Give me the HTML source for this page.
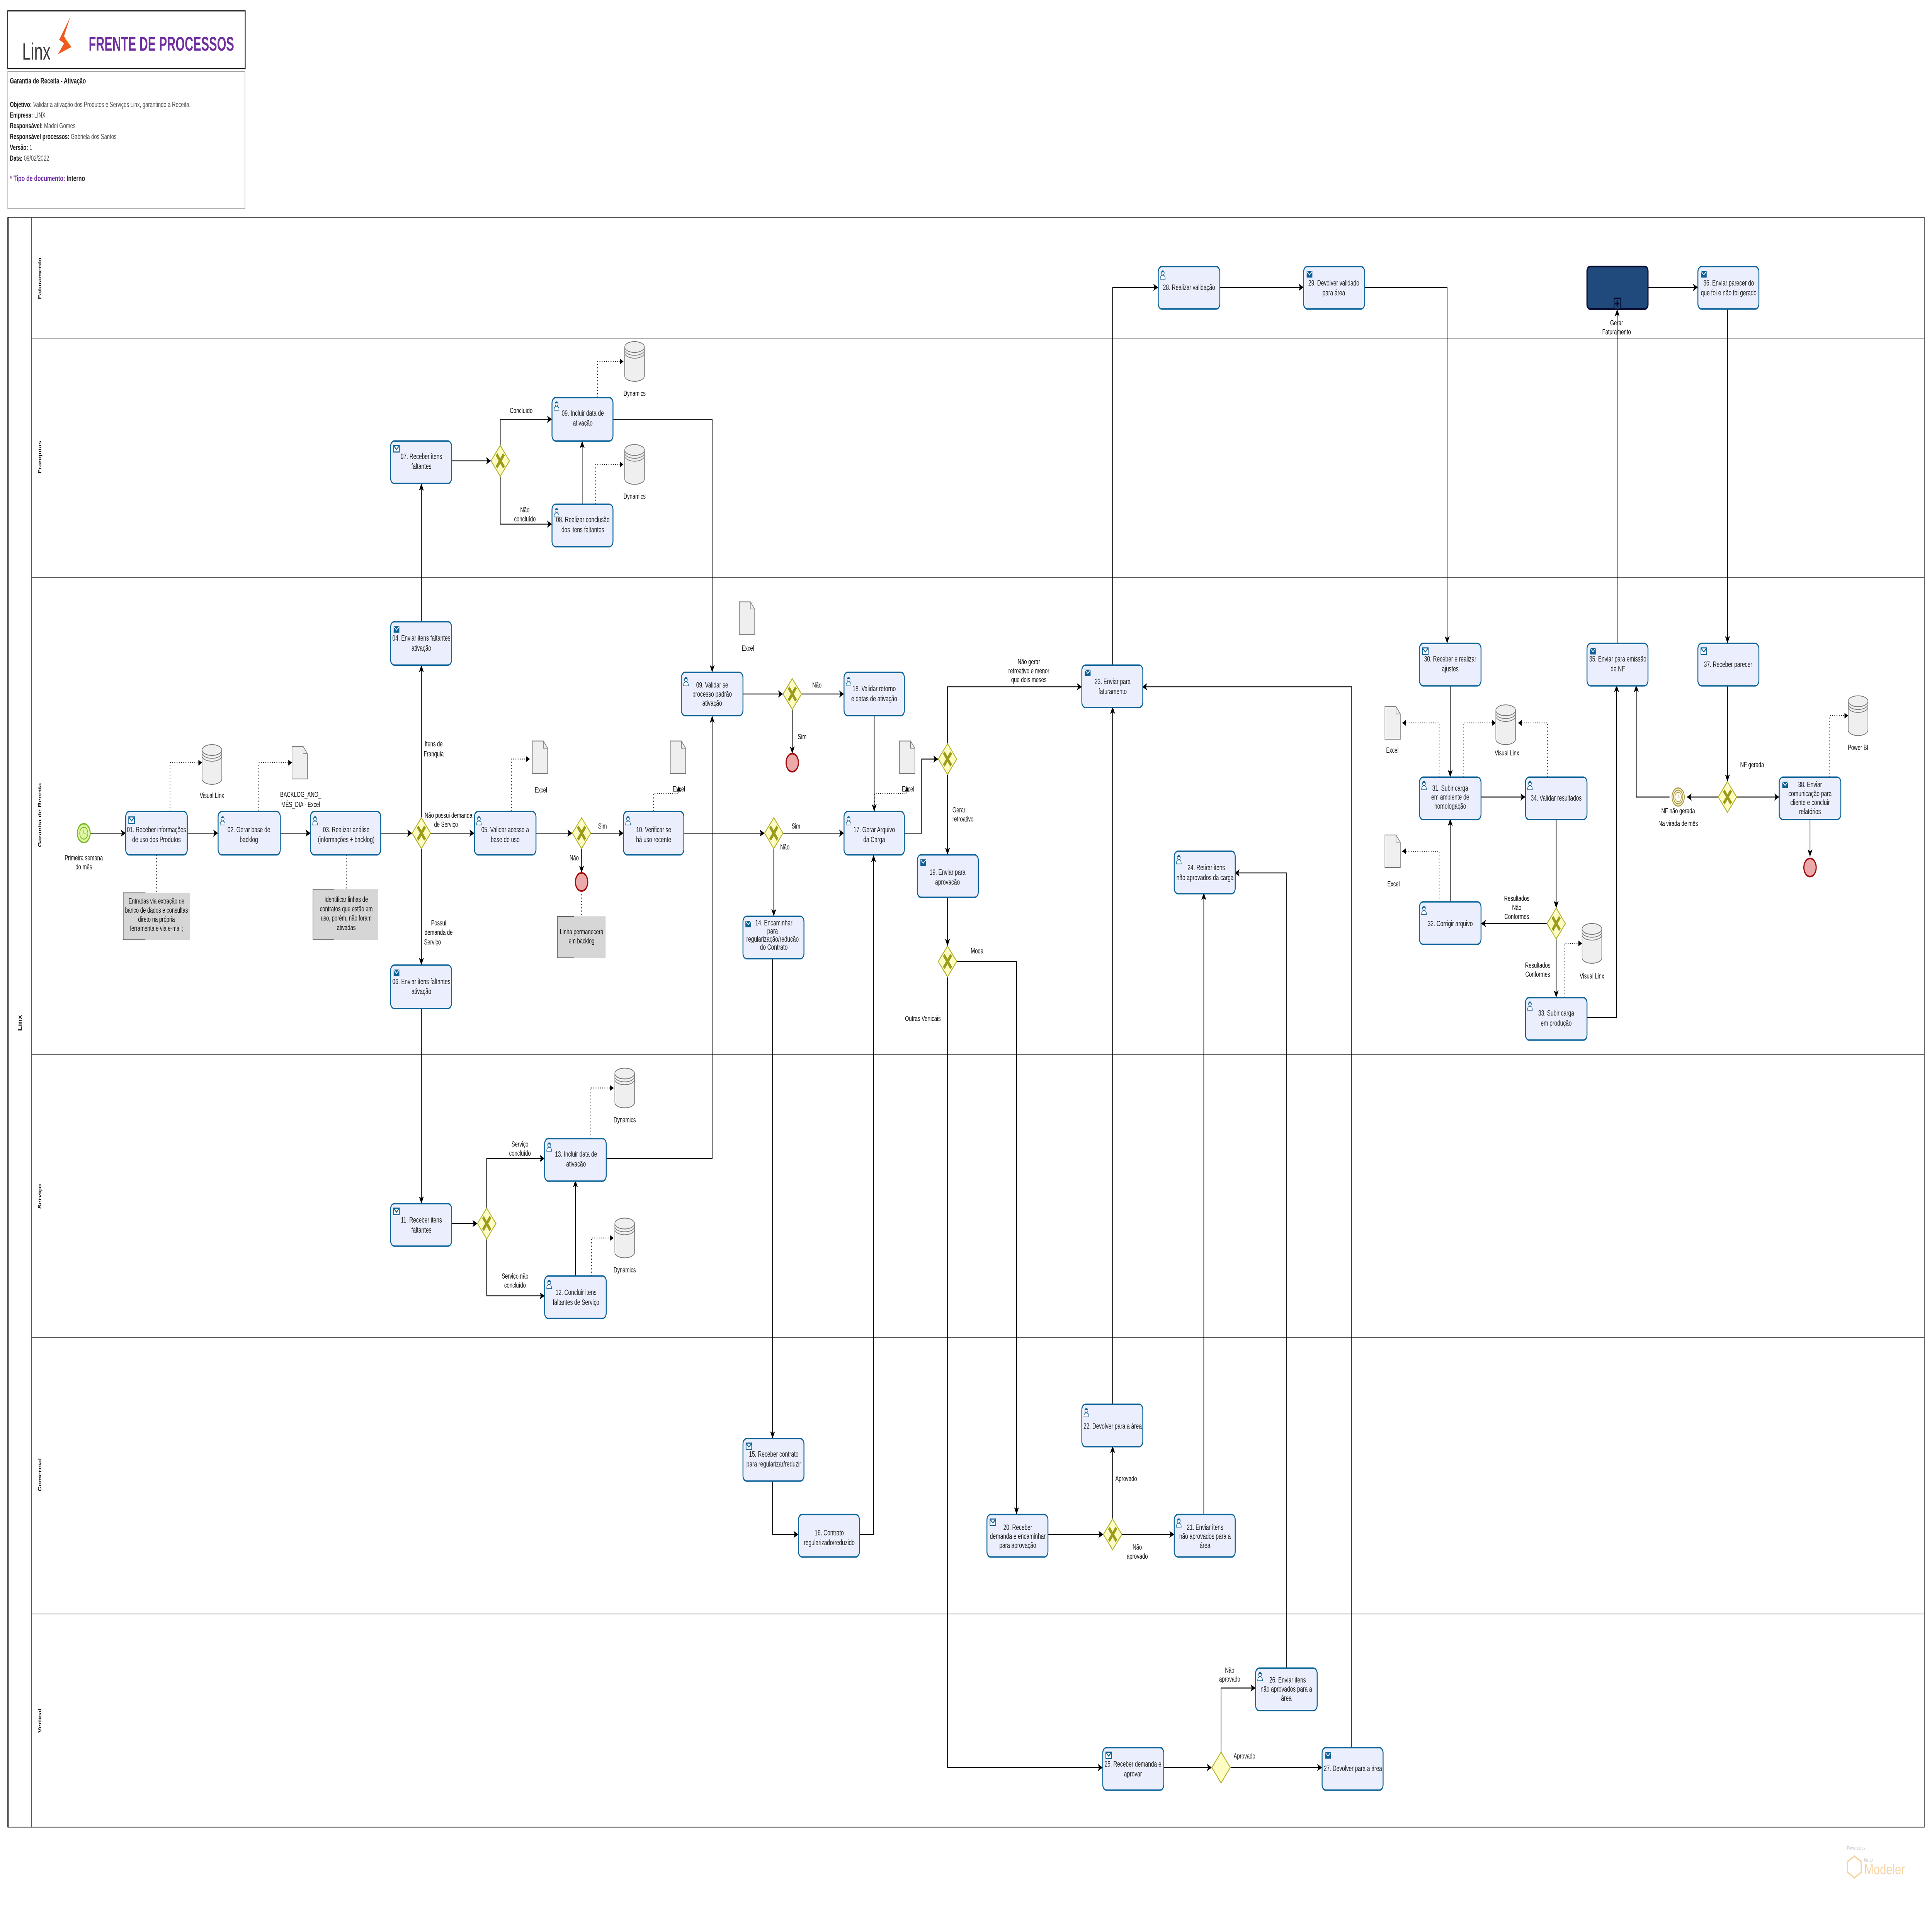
<!DOCTYPE html>
<html><head><meta charset="utf-8">
<style>
html,body{margin:0;padding:0;background:#fff;width:100%;height:100%;overflow:hidden;}
svg{display:block;width:100vw;height:100vh;}
.t{font-family:"Liberation Sans Narrow","Liberation Sans",sans-serif;font-size:4.3px;text-anchor:middle;fill:#222;}
.l{font-family:"Liberation Sans Narrow","Liberation Sans",sans-serif;font-size:4.1px;text-anchor:middle;fill:#111;}
.task{fill:#ebeefc;stroke:#0b6399;stroke-width:0.75;}
.f{fill:none;stroke:#000;stroke-width:0.5;}
.a{fill:none;stroke:#000;stroke-width:0.45;stroke-dasharray:0.6 1.2;}
.lane{font-family:"Liberation Sans Narrow","Liberation Sans",sans-serif;font-size:3.8px;font-weight:bold;text-anchor:middle;fill:#111;}
.info{font-family:"Liberation Sans Narrow","Liberation Sans",sans-serif;font-size:4.1px;fill:#222;}
</style></head>
<body>
<svg viewBox="0 0 1568 1069" preserveAspectRatio="none" xmlns="http://www.w3.org/2000/svg">
<defs>
<marker id="ar" markerUnits="userSpaceOnUse" markerWidth="6" markerHeight="6" refX="4" refY="2" orient="auto"><path d="M0 0 L4 2 L0 4 L1 2 Z" fill="#000"/></marker>
<marker id="ad" markerUnits="userSpaceOnUse" markerWidth="6" markerHeight="6" refX="3" refY="1.6" orient="auto"><path d="M0 0 L3 1.6 L0 3.2 Z" fill="#000"/></marker>
<g id="mail"><rect x="0" y="0" width="4.6" height="3.6" fill="#fff" stroke="#0b5f95" stroke-width="0.6"/><path d="M0.2 0.3 L2.3 2.2 L4.4 0.3" fill="none" stroke="#0b5f95" stroke-width="0.6"/></g>
<g id="send"><rect x="0" y="0" width="4.6" height="3.6" fill="#0b5f95"/><path d="M0.3 0.3 L2.3 2.1 L4.3 0.3" fill="none" stroke="#fff" stroke-width="0.5"/></g>
<g id="user"><path d="M0.2 5 Q0.2 2.8 2.2 2.8 Q4.2 2.8 4.2 5 Z" fill="#fff" stroke="#0b5f95" stroke-width="0.35"/><circle cx="2.2" cy="1.5" r="1.2" fill="#fff" stroke="#0b5f95" stroke-width="0.35"/><path d="M1 1.2 Q2.2 -0.2 3.4 1.2" fill="#0b5f95"/></g>
<g id="db"><path d="M0 3 V19 A8 3 0 0 0 16 19 V3" fill="#efefef" stroke="#777" stroke-width="0.45"/><ellipse cx="8" cy="3" rx="8" ry="3" fill="#efefef" stroke="#777" stroke-width="0.45"/><path d="M0 4.6 A8 3 0 0 0 16 4.6 M0 6.2 A8 3 0 0 0 16 6.2" fill="none" stroke="#777" stroke-width="0.4"/></g>
<g id="doc"><path d="M0 0 H9 L12.5 4 V18 H0 Z" fill="#efefef" stroke="#777" stroke-width="0.45"/><path d="M9 0 V4 H12.5" fill="none" stroke="#777" stroke-width="0.35"/></g>
<g id="gw"><path d="M0 -8.5 L7.5 0 L0 8.5 L-7.5 0Z" fill="#fdfdc4" stroke="#b0b028" stroke-width="0.6"/><path d="M-3 -3.6 L3 3.6 M3 -3.6 L-3 3.6" stroke="#9c9c1a" stroke-width="1.9"/></g>
<g id="end"><circle r="5" fill="#eba9a9" stroke="#a00c0c" stroke-width="0.9"/></g>
</defs>

<!-- Header -->
<rect x="6.3" y="6" width="192.7" height="32" fill="#fff" stroke="#000" stroke-width="0.6"/>
<text x="18" y="33" style="font-family:'Liberation Sans',sans-serif;font-size:13px;fill:#3a3a3a" textLength="23" lengthAdjust="spacingAndGlyphs">Linx</text>
<path d="M57 9.5 L48 22 L52 24 L47 30 L58 26 L52 20 Z" fill="#f05a22"/>
<path d="M52 20 L58 26 L53 22 Z" fill="#f6a21c"/>
<text x="72" y="28" style="font-family:'Liberation Sans',sans-serif;font-size:11px;font-weight:bold;fill:#7030a0" textLength="118" lengthAdjust="spacingAndGlyphs">FRENTE DE PROCESSOS</text>
<rect x="6.3" y="39.5" width="192.5" height="76" fill="#fff" stroke="#999" stroke-width="0.4"/>
<text class="info" x="8" y="46.2" style="font-weight:bold;font-size:4.3px">Garantia de Receita - Ativação</text>
<text class="info" x="8" y="59.2"><tspan font-weight="bold">Objetivo:</tspan><tspan fill="#555"> Validar a ativação dos Produtos e Serviços Linx, garantindo a Receita.</tspan></text>
<text class="info" x="8" y="65.1"><tspan font-weight="bold">Empresa:</tspan><tspan fill="#555"> LINX</tspan></text>
<text class="info" x="8" y="71"><tspan font-weight="bold">Responsável:</tspan><tspan fill="#555"> Madei Gomes</tspan></text>
<text class="info" x="8" y="77"><tspan font-weight="bold">Responsável processos:</tspan><tspan fill="#555"> Gabriela dos Santos</tspan></text>
<text class="info" x="8" y="83"><tspan font-weight="bold">Versão:</tspan><tspan fill="#555"> 1</tspan></text>
<text class="info" x="8" y="88.9"><tspan font-weight="bold">Data:</tspan><tspan fill="#555"> 09/02/2022</tspan></text>
<text class="info" x="8" y="100.2" style="font-size:4.4px"><tspan fill="#7030a0" font-weight="bold">* Tipo de documento:</tspan><tspan font-weight="bold"> Interno</tspan></text>

<!-- Pool & lanes -->
<rect x="6.3" y="120.3" width="1555.5" height="890.7" fill="#fff" stroke="#444" stroke-width="0.4"/>
<line x1="6.5" y1="120.3" x2="6.5" y2="1011" stroke="#000" stroke-width="0.9"/>
<line x1="25.7" y1="120.3" x2="25.7" y2="1011" stroke="#555" stroke-width="0.6"/>
<g stroke="#555" stroke-width="0.35">
<line x1="25.7" y1="187.5" x2="1562" y2="187.5"/>
<line x1="25.7" y1="319.5" x2="1562" y2="319.5"/>
<line x1="25.7" y1="583.5" x2="1562" y2="583.5"/>
<line x1="25.7" y1="740" x2="1562" y2="740"/>
<line x1="25.7" y1="893" x2="1562" y2="893"/>
</g>
<text class="lane" transform="translate(17.5,566) rotate(-90)" style="font-size:4.3px">Linx</text>
<text class="lane" transform="translate(33.5,154) rotate(-90)">Faturamento</text>
<text class="lane" transform="translate(33.5,253) rotate(-90)">Franquias</text>
<text class="lane" transform="translate(33.5,451) rotate(-90)">Garantia de Receita</text>
<text class="lane" transform="translate(33.5,662) rotate(-90)">Serviço</text>
<text class="lane" transform="translate(33.5,816) rotate(-90)">Comercial</text>
<text class="lane" transform="translate(33.5,952) rotate(-90)">Vertical</text>

<!-- Sequence flows -->
<g class="f" marker-end="url(#ar)">
<path d="M73.5 461 H102"/>
<path d="M152 461 H177"/>
<path d="M227 461 H252"/>
<path d="M309 461 H334.5"/>
<path d="M342 452.5 V368"/>
<path d="M342 344 V267.5"/>
<path d="M349.5 461 H385"/>
<path d="M342 469.5 V534"/>
<path d="M342 558 V666"/>
<path d="M435 461 H464.5"/>
<path d="M479.5 461 H506"/>
<path d="M472 469.5 V483"/>
<path d="M555 461 H620.5"/>
<path d="M635.5 461 H685"/>
<path d="M628 469.5 V507"/>
<path d="M627 530 V796"/>
<path d="M627 819 V849 H648"/>
<path d="M697 849 H709 V473"/>
<path d="M734 461 H748 V420 H761.5"/>
<path d="M769 411.5 V380 H878"/>
<path d="M769 428.5 V473"/>
<path d="M769 496 V523.5"/>
<path d="M776.5 532 H825 V838"/>
<path d="M769 540.5 V978 H895"/>
<path d="M366 255 H398.5"/>
<path d="M406 246.5 V232 H448"/>
<path d="M406 263.5 V290 H448"/>
<path d="M472.5 279 V244"/>
<path d="M497 232 H578 V372"/>
<path d="M603 384 H635.5"/>
<path d="M650.5 384 H685"/>
<path d="M643 392.5 V417"/>
<path d="M709.5 396 V449"/>
<path d="M366 677 H387.5"/>
<path d="M395 668.5 V641 H442"/>
<path d="M395 685.5 V717 H442"/>
<path d="M467 706 V653"/>
<path d="M492 641 H578 V396"/>
<path d="M850 849 H895.5"/>
<path d="M903 840.5 V800"/>
<path d="M910.5 849 H953"/>
<path d="M903 777 V391"/>
<path d="M977 838 V494"/>
<path d="M944 978 H983.5"/>
<path d="M998.5 978 H1073"/>
<path d="M991 969.5 V934 H1019"/>
<path d="M1044 923 V483 H1002"/>
<path d="M1097 967 V380 H927"/>
<path d="M903 368 V159 H940"/>
<path d="M990 159 H1058"/>
<path d="M1107 159 H1174.5 V356"/>
<path d="M1177 379 V430"/>
<path d="M1202 441 H1238"/>
<path d="M1263 453 V502.5"/>
<path d="M1255.5 511 H1202"/>
<path d="M1263 519.5 V552"/>
<path d="M1177 499 V453"/>
<path d="M1288 563 H1312 V379"/>
<path d="M1355 441 H1328 V379"/>
<path d="M1312.5 356 V171"/>
<path d="M1337 159 H1378"/>
<path d="M1402 171 V356"/>
<path d="M1402 379 V432.5"/>
<path d="M1394.5 441 H1369"/>
<path d="M1409.5 441 H1444"/>
<path d="M1469 453 V474"/>
</g>

<!-- Associations (dotted) -->
<g class="a" marker-end="url(#ad)">
<path d="M138 449 V422 H164"/>
<path d="M210 449 V422 H237"/>
<path d="M415 449 V420 H430"/>
<path d="M530.5 449 V439 H551 V435"/>
<path d="M710 449 V439 H736 V435"/>
<path d="M485 220 V200 H506"/>
<path d="M483.5 279 V257 H506"/>
<path d="M479 630 V602 H498"/>
<path d="M480 706 V685 H498"/>
<path d="M1168 430 V400 H1138"/>
<path d="M1188 430 V400 H1214"/>
<path d="M1256 430 V400 H1232"/>
<path d="M1168 499 V471 H1138"/>
<path d="M1270 552 V522 H1284"/>
<path d="M1485 430 V396 H1500"/>
</g>
<g class="a">
<path d="M127 473 V494"/>
<path d="M281 473 V492"/>
<path d="M472 493 V507"/>
</g>

<!-- Artifacts -->
<use href="#db" x="164" y="412"/><text class="l" x="172" y="441.5">Visual Linx</text>
<use href="#doc" x="237" y="413"/><text class="l" x="244" y="441">BACKLOG_ANO_</text><text class="l" x="244" y="446.5">MÊS_DIA - Excel</text>
<use href="#doc" x="432" y="410"/><text class="l" x="439" y="438.5">Excel</text>
<use href="#doc" x="544" y="410"/><text class="l" x="551" y="438">Excel</text>
<use href="#doc" x="730" y="410"/><text class="l" x="737" y="438">Excel</text>
<use href="#doc" x="600" y="333"/><text class="l" x="607" y="360">Excel</text>
<use href="#db" x="507" y="189"/><text class="l" x="515" y="219">Dynamics</text>
<use href="#db" x="507" y="246"/><text class="l" x="515" y="276">Dynamics</text>
<use href="#db" x="499" y="591"/><text class="l" x="507" y="621">Dynamics</text>
<use href="#db" x="499" y="674"/><text class="l" x="507" y="704">Dynamics</text>
<use href="#doc" x="1124" y="391"/><text class="l" x="1130" y="416.5">Excel</text>
<use href="#doc" x="1124" y="462"/><text class="l" x="1131" y="490.5">Excel</text>
<use href="#db" x="1214" y="390"/><text class="l" x="1223" y="418">Visual Linx</text>
<use href="#db" x="1284" y="511"/><text class="l" x="1292" y="541.5">Visual Linx</text>
<use href="#db" x="1500" y="385"/><text class="l" x="1508" y="415">Power BI</text>

<!-- Annotations -->
<rect x="100" y="494" width="54" height="26" fill="#d6d6d6"/>
<path d="M118 494 H100 V520 H118" fill="none" stroke="#333" stroke-width="0.35"/>
<text class="l" x="127" y="500"><tspan x="127">Entradas via extração de</tspan><tspan x="127" dy="5">banco de dados e consultas</tspan><tspan x="127" dy="5">direto na própria</tspan><tspan x="127" dy="5">ferramenta e via e-mail;</tspan></text>
<rect x="254" y="492" width="53" height="28" fill="#d6d6d6"/>
<path d="M271 492 H254 V520 H271" fill="none" stroke="#333" stroke-width="0.35"/>
<text class="l" x="281" y="499"><tspan x="281">Identificar linhas de</tspan><tspan x="281" dy="5.2">contratos que estão em</tspan><tspan x="281" dy="5.2">uso, porém, não foram</tspan><tspan x="281" dy="5.2">ativadas</tspan></text>
<rect x="452.5" y="507" width="39" height="23" fill="#d6d6d6"/>
<path d="M466 507 H452.5 V530 H466" fill="none" stroke="#333" stroke-width="0.35"/>
<text class="l" x="472" y="517"><tspan x="472">Linha permanecerá</tspan><tspan x="472" dy="5">em backlog</tspan></text>

<!-- Events -->
<circle cx="68" cy="461" r="5.2" fill="#def6a4" stroke="#7ab62a" stroke-width="0.8"/>
<circle cx="68" cy="461" r="3.3" fill="none" stroke="#7ab62a" stroke-width="0.5"/>
<path d="M68 459 V461 H69.5" fill="none" stroke="#7ab62a" stroke-width="0.4"/>
<text class="l" x="68" y="476"><tspan x="68">Primeira semana</tspan><tspan x="68" dy="5">do mês</tspan></text>
<use href="#end" x="472" y="488"/>
<use href="#end" x="643" y="422"/>
<use href="#end" x="1469" y="480"/>
<circle cx="1362" cy="441" r="5" fill="#f7f1d6" stroke="#a99a3e" stroke-width="0.6"/>
<circle cx="1362" cy="441" r="3.8" fill="none" stroke="#a99a3e" stroke-width="0.5"/>
<circle cx="1362" cy="441" r="2.6" fill="#fff" stroke="#a99a3e" stroke-width="0.4"/>
<path d="M1362 439.5 V441 H1363.2" fill="none" stroke="#a99a3e" stroke-width="0.35"/>
<text class="l" x="1362" y="450">NF não gerada</text>
<text class="l" x="1362" y="457">Na virada de mês</text>

<!-- Gateways -->
<use href="#gw" x="342" y="461"/>
<use href="#gw" x="472" y="461"/>
<use href="#gw" x="628" y="461"/>
<use href="#gw" x="769" y="420"/>
<use href="#gw" x="769" y="532"/>
<use href="#gw" x="643" y="384"/>
<use href="#gw" x="406" y="255"/>
<use href="#gw" x="395" y="677"/>
<use href="#gw" x="903" y="849"/>
<use href="#gw" x="1263" y="511"/>
<use href="#gw" x="1402" y="441"/>
<path d="M991 969.5 L998.5 978 L991 986.5 L983.5 978 Z" fill="#fdfdc4" stroke="#b0b028" stroke-width="0.6"/>

<!-- Flow labels -->
<text class="l" x="352" y="413"><tspan x="352">Itens de</tspan><tspan x="352" dy="5.5">Franquia</tspan></text>
<text class="l" x="364" y="452.5"><tspan x="364">Não possui demanda</tspan><tspan x="362" dy="5">de Serviço</tspan></text>
<text class="l" x="355" y="512"><tspan x="356">Possui</tspan><tspan x="356" dy="5.3">demanda de</tspan><tspan x="351" dy="5.3">Serviço</tspan></text>
<text class="l" x="489" y="458.5">Sim</text>
<text class="l" x="466" y="476">Não</text>
<text class="l" x="646" y="458.5">Sim</text>
<text class="l" x="637" y="470">Não</text>
<text class="l" x="663" y="380.5">Não</text>
<text class="l" x="651" y="409">Sim</text>
<text class="l" x="423" y="228.5">Concluído</text>
<text class="l" x="426" y="283.5"><tspan x="426">Não</tspan><tspan x="426" dy="5">concluído</tspan></text>
<text class="l" x="422" y="634.5"><tspan x="422">Serviço</tspan><tspan x="422" dy="5">concluído</tspan></text>
<text class="l" x="418" y="707.5"><tspan x="418">Serviço não</tspan><tspan x="418" dy="5">concluído</tspan></text>
<text class="l" x="835" y="367.5"><tspan x="835">Não gerar</tspan><tspan x="835" dy="5">retroativo e menor</tspan><tspan x="835" dy="5">que dois meses</tspan></text>
<text class="l" x="773" y="449.5" style="text-anchor:start"><tspan x="773">Gerar</tspan><tspan x="773" dy="5">retroativo</tspan></text>
<text class="l" x="793" y="527.5">Moda</text>
<text class="l" x="749" y="565">Outras Verticais</text>
<text class="l" x="914" y="819.5">Aprovado</text>
<text class="l" x="923" y="857.5"><tspan x="923">Não</tspan><tspan x="923" dy="5">aprovado</tspan></text>
<text class="l" x="1010" y="973">Aprovado</text>
<text class="l" x="998" y="925.5"><tspan x="998">Não</tspan><tspan x="998" dy="5">aprovado</tspan></text>
<text class="l" x="1231" y="498.5"><tspan x="1231">Resultados</tspan><tspan x="1231" dy="5">Não</tspan><tspan x="1231" dy="5">Conformes</tspan></text>
<text class="l" x="1248" y="535.5"><tspan x="1248">Resultados</tspan><tspan x="1248" dy="5">Conformes</tspan></text>
<text class="l" x="1422" y="424.5">NF gerada</text>

<!-- Subprocess -->
<rect x="1288" y="147.5" width="49.5" height="23.5" rx="2.5" fill="#204a7c" stroke="#06082e" stroke-width="0.9"/>
<rect x="1310" y="165" width="5" height="6" fill="#204a7c" stroke="#06082e" stroke-width="0.6"/>
<path d="M1312.5 166.2 V169.8 M1310.8 168 H1314.2" stroke="#06082e" stroke-width="0.9"/>
<text class="l" x="1312" y="180"><tspan x="1312">Gerar</tspan><tspan x="1312" dy="5">Faturamento</tspan></text>

<!-- Tasks -->
<g>
<rect class="task" x="102" y="449" width="50" height="24" rx="3"/><use href="#mail" x="104.5" y="452"/>
<text class="t"><tspan x="127" y="460.5">01. Receber informações</tspan><tspan x="127" y="466">de uso dos Produtos</tspan></text>

<rect class="task" x="177" y="449" width="50.5" height="24" rx="3"/><use href="#user" x="178.5" y="451.5"/>
<text class="t"><tspan x="202" y="460.5">02. Gerar base de</tspan><tspan x="202" y="466">backlog</tspan></text>

<rect class="task" x="252" y="449" width="57" height="24" rx="3"/><use href="#user" x="253.5" y="451.5"/>
<text class="t"><tspan x="281" y="460.5">03. Realizar análise</tspan><tspan x="281" y="466">(informações + backlog)</tspan></text>

<rect class="task" x="317" y="344" width="49.5" height="24" rx="3"/><use href="#send" x="319.5" y="346.5"/>
<text class="t"><tspan x="342" y="354.5">04. Enviar itens faltantes</tspan><tspan x="342" y="360">ativação</tspan></text>

<rect class="task" x="317" y="534" width="49.5" height="24" rx="3"/><use href="#send" x="319.5" y="536.5"/>
<text class="t"><tspan x="342" y="544.5">06. Enviar itens faltantes</tspan><tspan x="342" y="550">ativação</tspan></text>

<rect class="task" x="385" y="449" width="50" height="24" rx="3"/><use href="#user" x="386.5" y="451.5"/>
<text class="t"><tspan x="410" y="460.5">05. Validar acesso a</tspan><tspan x="410" y="466">base de uso</tspan></text>

<rect class="task" x="506" y="449" width="49" height="24" rx="3"/><use href="#user" x="507.5" y="451.5"/>
<text class="t"><tspan x="530.5" y="460.5">10. Verificar se</tspan><tspan x="530.5" y="466">há uso recente</tspan></text>

<rect class="task" x="603" y="507" width="49.5" height="23.5" rx="3"/><use href="#send" x="605" y="509.5"/>
<text class="t"><tspan x="628" y="512">14. Encaminhar</tspan><tspan x="627" y="516.5">para</tspan><tspan x="627" y="521">regularização/redução</tspan><tspan x="628" y="525.5">do Contrato</tspan></text>

<rect class="task" x="685" y="449" width="49" height="24" rx="3"/><use href="#user" x="686.5" y="451.5"/>
<text class="t"><tspan x="709.5" y="460.5">17. Gerar Arquivo</tspan><tspan x="709.5" y="466">da Carga</tspan></text>

<rect class="task" x="744.5" y="473" width="49.5" height="23.5" rx="3"/><use href="#send" x="747" y="475.5"/>
<text class="t"><tspan x="769" y="484">19. Enviar para</tspan><tspan x="769" y="489.5">aprovação</tspan></text>

<rect class="task" x="553" y="372" width="50" height="24" rx="3"/><use href="#user" x="554.5" y="374.5"/>
<text class="t"><tspan x="578" y="380.5">09. Validar se</tspan><tspan x="578" y="385.5">processo padrão</tspan><tspan x="578" y="390.5">ativação</tspan></text>

<rect class="task" x="685" y="372" width="49" height="24" rx="3"/><use href="#user" x="686.5" y="374.5"/>
<text class="t"><tspan x="709.5" y="382.5">18. Validar retorno</tspan><tspan x="709.5" y="388">e datas de ativação</tspan></text>

<rect class="task" x="878" y="368" width="49.5" height="23.5" rx="3"/><use href="#send" x="880.5" y="370.5"/>
<text class="t"><tspan x="903" y="378.5">23. Enviar para</tspan><tspan x="903" y="384">faturamento</tspan></text>

<rect class="task" x="953" y="471" width="49.5" height="23.5" rx="3"/><use href="#user" x="954.5" y="473"/>
<text class="t"><tspan x="979" y="481.5">24. Retirar itens</tspan><tspan x="978" y="487">não aprovados da carga</tspan></text>

<rect class="task" x="1152" y="356" width="50" height="23.5" rx="3"/><use href="#mail" x="1154.5" y="358.5"/>
<text class="t"><tspan x="1177" y="366">30. Receber e realizar</tspan><tspan x="1177" y="371.5">ajustes</tspan></text>

<rect class="task" x="1152" y="430" width="50" height="23.5" rx="3"/><use href="#user" x="1153.5" y="432"/>
<text class="t"><tspan x="1177" y="437.5">31. Subir carga</tspan><tspan x="1177" y="442.5">em ambiente de</tspan><tspan x="1177" y="447.5">homologação</tspan></text>

<rect class="task" x="1238" y="430" width="50" height="23.5" rx="3"/><use href="#user" x="1239.5" y="432"/>
<text class="t"><tspan x="1263" y="443">34. Validar resultados</tspan></text>

<rect class="task" x="1152" y="499" width="50" height="23.5" rx="3"/><use href="#user" x="1153.5" y="501"/>
<text class="t"><tspan x="1177" y="512.5">32. Corrigir arquivo</tspan></text>

<rect class="task" x="1238" y="552" width="50" height="23.5" rx="3"/><use href="#user" x="1239.5" y="554"/>
<text class="t"><tspan x="1263" y="562">33. Subir carga</tspan><tspan x="1263" y="567.5">em produção</tspan></text>

<rect class="task" x="1288" y="356" width="49.5" height="23.5" rx="3"/><use href="#send" x="1290.5" y="358.5"/>
<text class="t"><tspan x="1313" y="366">35. Enviar para emissão</tspan><tspan x="1313" y="371.5">de NF</tspan></text>

<rect class="task" x="1378" y="356" width="49.5" height="23.5" rx="3"/><use href="#mail" x="1380.5" y="358.5"/>
<text class="t"><tspan x="1402.5" y="369">37. Receber parecer</tspan></text>

<rect class="task" x="1444" y="430" width="50" height="23.5" rx="3"/><use href="#send" x="1446.5" y="432.5"/>
<text class="t"><tspan x="1469" y="435.5">38. Enviar</tspan><tspan x="1469" y="440.5">comunicação para</tspan><tspan x="1469" y="445.5">cliente e concluir</tspan><tspan x="1469" y="450.5">relatórios</tspan></text>

<rect class="task" x="317" y="244" width="49.5" height="23.5" rx="3"/><use href="#mail" x="319.5" y="246.5"/>
<text class="t"><tspan x="342" y="254">07. Receber itens</tspan><tspan x="342" y="259.5">faltantes</tspan></text>

<rect class="task" x="448" y="220" width="49.5" height="24" rx="3"/><use href="#user" x="449.5" y="222"/>
<text class="t"><tspan x="473" y="230">09. Incluir data de</tspan><tspan x="473" y="235.5">ativação</tspan></text>

<rect class="task" x="448" y="279" width="49.5" height="23.5" rx="3"/><use href="#user" x="449.5" y="281"/>
<text class="t"><tspan x="473" y="289">08. Realizar conclusão</tspan><tspan x="473" y="294.5">dos itens faltantes</tspan></text>

<rect class="task" x="940" y="147.5" width="50" height="23.5" rx="3"/><use href="#user" x="941.5" y="149.5"/>
<text class="t"><tspan x="965" y="160.5">28. Realizar validação</tspan></text>

<rect class="task" x="1058" y="147.5" width="49.5" height="23.5" rx="3"/><use href="#send" x="1060.5" y="150"/>
<text class="t"><tspan x="1082.5" y="158">29. Devolver validado</tspan><tspan x="1082.5" y="163.5">para área</tspan></text>

<rect class="task" x="1378" y="147.5" width="49.5" height="23.5" rx="3"/><use href="#send" x="1380.5" y="150"/>
<text class="t"><tspan x="1403" y="158">36. Enviar parecer do</tspan><tspan x="1403" y="163.5">que foi e não foi gerado</tspan></text>

<rect class="task" x="317" y="666" width="49.5" height="23.5" rx="3"/><use href="#mail" x="319.5" y="668.5"/>
<text class="t"><tspan x="342" y="676.5">11. Receber itens</tspan><tspan x="342" y="682">faltantes</tspan></text>

<rect class="task" x="442" y="630" width="50" height="23.5" rx="3"/><use href="#user" x="443.5" y="632"/>
<text class="t"><tspan x="467.5" y="640">13. Incluir data de</tspan><tspan x="467.5" y="645.5">ativação</tspan></text>

<rect class="task" x="442" y="706" width="50" height="23.5" rx="3"/><use href="#user" x="443.5" y="708"/>
<text class="t"><tspan x="467.5" y="716.5">12. Concluir itens</tspan><tspan x="467.5" y="722">faltantes de Serviço</tspan></text>

<rect class="task" x="603" y="796" width="49.5" height="23.5" rx="3"/><use href="#mail" x="605.5" y="798.5"/>
<text class="t"><tspan x="628" y="806">15. Receber contrato</tspan><tspan x="628" y="811.5">para regularizar/reduzir</tspan></text>

<rect class="task" x="648" y="838" width="49.5" height="23.5" rx="3"/>
<text class="t"><tspan x="673" y="849.5">16. Contrato</tspan><tspan x="673" y="855">regularizado/reduzido</tspan></text>

<rect class="task" x="878" y="777" width="49.5" height="23.5" rx="3"/><use href="#user" x="879.5" y="779"/>
<text class="t"><tspan x="903" y="790.5">22. Devolver para a área</tspan></text>

<rect class="task" x="801" y="838" width="49.5" height="23.5" rx="3"/><use href="#mail" x="803.5" y="840.5"/>
<text class="t"><tspan x="826" y="846.5">20. Receber</tspan><tspan x="826" y="851.5">demanda e encaminhar</tspan><tspan x="826" y="856.5">para aprovação</tspan></text>

<rect class="task" x="953" y="838" width="49.5" height="23.5" rx="3"/><use href="#user" x="954.5" y="840"/>
<text class="t"><tspan x="978" y="846.5">21. Enviar itens</tspan><tspan x="978" y="851.5">não aprovados para a</tspan><tspan x="978" y="856.5">área</tspan></text>

<rect class="task" x="895" y="967" width="49.5" height="23.5" rx="3"/><use href="#mail" x="897.5" y="969.5"/>
<text class="t"><tspan x="919.5" y="977.5">25. Receber demanda e</tspan><tspan x="919.5" y="983">aprovar</tspan></text>

<rect class="task" x="1019" y="923" width="50" height="23.5" rx="3"/><use href="#user" x="1020.5" y="925"/>
<text class="t"><tspan x="1045" y="931">26. Enviar itens</tspan><tspan x="1044" y="936">não aprovados para a</tspan><tspan x="1044" y="941">área</tspan></text>

<rect class="task" x="1073" y="967" width="49.5" height="23.5" rx="3"/><use href="#send" x="1075.5" y="969.5"/>
<text class="t"><tspan x="1098" y="980">27. Devolver para a área</tspan></text>
</g>

<!-- Watermark -->
<text x="1499" y="1023.5" style="font-family:'Liberation Sans',sans-serif;font-size:2.8px;fill:#c4c4c4">Powered by</text>
<text x="1513" y="1030" style="font-family:'Liberation Sans',sans-serif;font-size:2.8px;fill:#c4c4c4">bizagi</text>
<text x="1513" y="1037" style="font-family:'Liberation Sans',sans-serif;font-size:8px;fill:#f8d3a4" textLength="33" lengthAdjust="spacingAndGlyphs">Modeler</text>
<path d="M1505 1027 L1510.5 1030 V1036 L1505 1039 L1499.5 1036 V1030 Z" fill="none" stroke="#f8d3a4" stroke-width="0.9"/>
</svg>
</body></html>
